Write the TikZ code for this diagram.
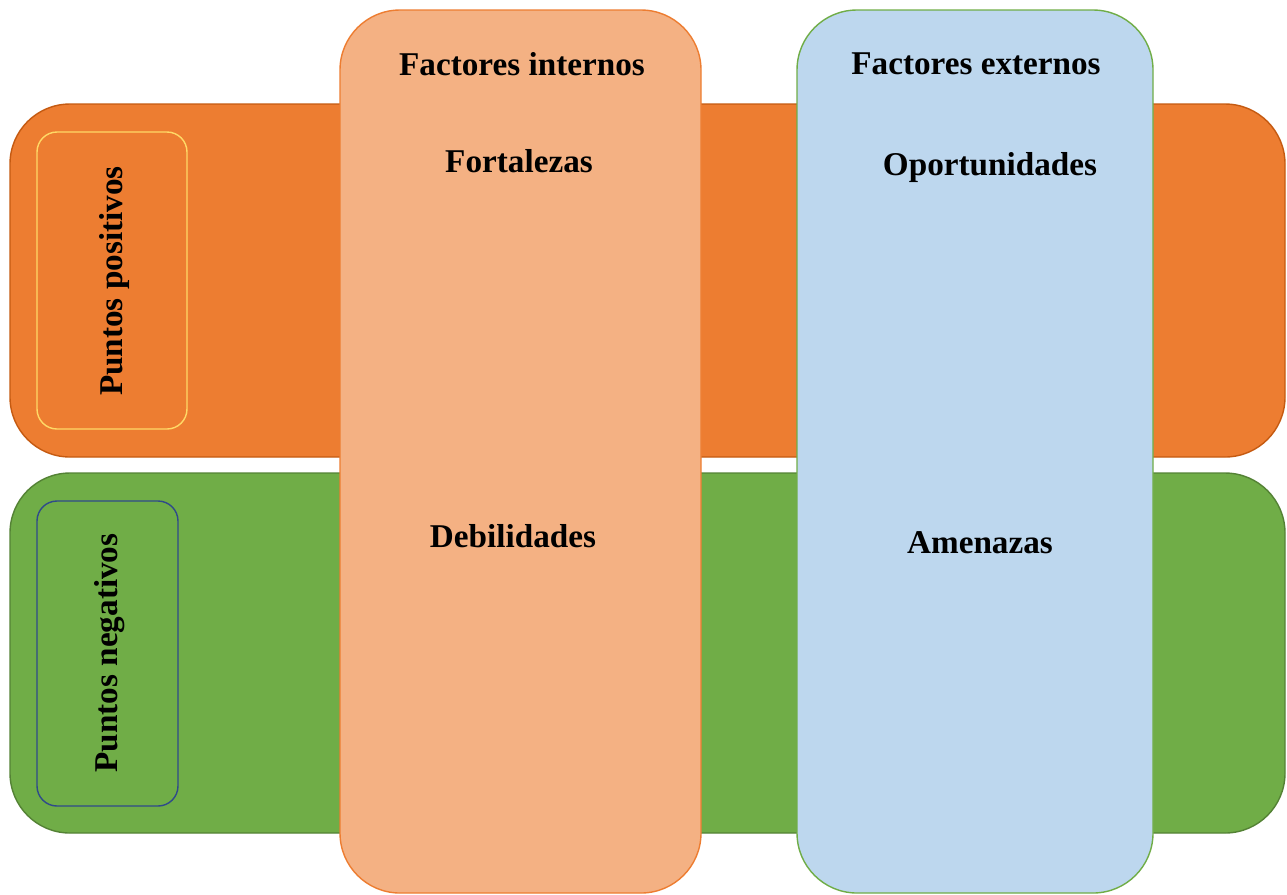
\documentclass[tikz,border=0pt]{standalone}
\usepackage{fontspec}
\setmainfont{Liberation Serif}
\definecolor{bandorange}{HTML}{ED7D31}
\definecolor{bandorangeline}{HTML}{C55A11}
\definecolor{bandgreen}{HTML}{70AD47}
\definecolor{bandgreenline}{HTML}{548235}
\definecolor{peach}{HTML}{F4B183}
\definecolor{lightblue}{HTML}{BDD7EE}
\definecolor{paleyellow}{HTML}{FFD966}
\definecolor{darkblue}{HTML}{2F4A8A}
\tikzset{
  band/.style={line width=0.8pt, rounded corners=1.2cm},
  column/.style={line width=0.8pt, rounded corners=1.2cm},
  tag/.style={line width=0.8pt, rounded corners=0.4cm},
  lbl/.style={font=\fontsize{18.9}{22}\selectfont\bfseries, inner sep=0pt},
}
\begin{document}
\begin{tikzpicture}[x=0.02cm,y=-0.02cm]
\useasboundingbox (0,0) rectangle (1287,894);
% bands
\draw[band, fill=bandorange, draw=bandorangeline] (10,104) rectangle (1285,457);
\draw[band, fill=bandgreen, draw=bandgreenline] (10,473) rectangle (1285,833);
% inner tags
\draw[tag, draw=paleyellow] (37,132) rectangle (187,429);
\draw[tag, draw=darkblue] (37,501) rectangle (178,806);
\node[lbl, rotate=90] (pos) at (115,281) {Puntos positivos};
\node[lbl, rotate=90] (neg) at (110,653) {Puntos negativos};
% columns
\draw[column, fill=peach, draw=bandorange] (340,10) rectangle (701,893);
\draw[column, fill=lightblue, draw=bandgreen] (797,10) rectangle (1153,893);
% labels
\node[lbl] (fi) at (522,64) {Factores internos};
\node[lbl] (fo) at (519,161) {Fortalezas};
\node[lbl] (de) at (513,536) {Debilidades};
\node[lbl] (fe) at (976,64) {Factores externos};
\node[lbl] (op) at (990,168) {Oportunidades};
\node[lbl] (am) at (980,543) {Amenazas};
\end{tikzpicture}
\end{document}
